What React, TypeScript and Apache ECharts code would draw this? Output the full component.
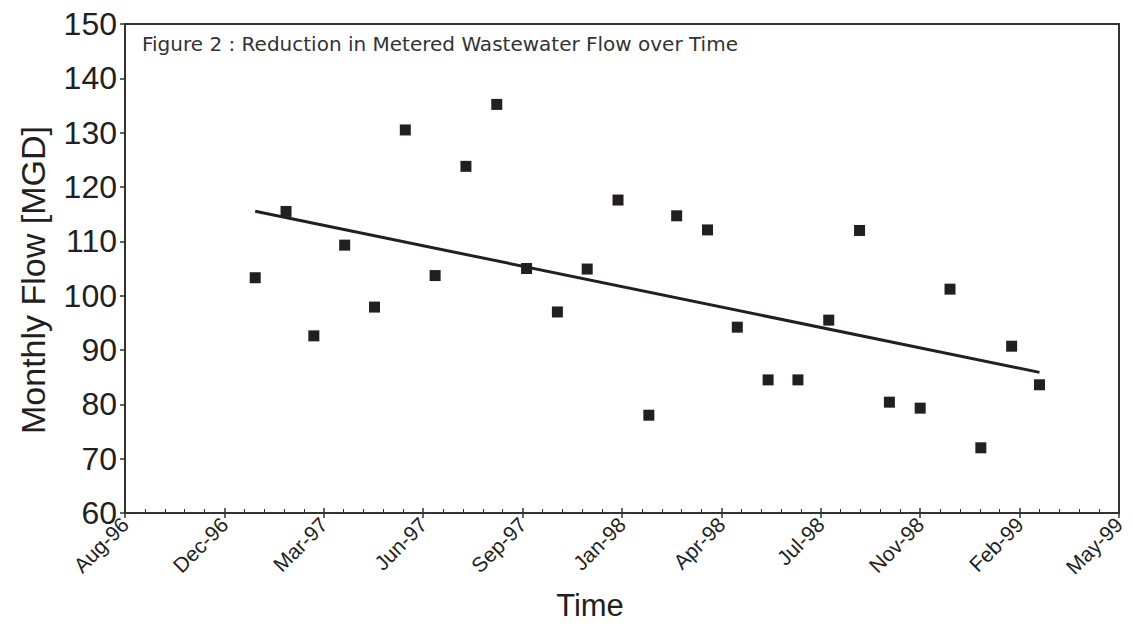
import React, { useEffect, useRef } from "react";
import * as echarts from "echarts";

// Monthly observations (first of each month)
const months = [
  "1997-01", "1997-02", "1997-03", "1997-04", "1997-05", "1997-06", "1997-07",
  "1997-08", "1997-09", "1997-10", "1997-11", "1997-12", "1998-01", "1998-02",
  "1998-03", "1998-04", "1998-05", "1998-06", "1998-07", "1998-08", "1998-09",
  "1998-10", "1998-11", "1998-12", "1999-01", "1999-02", "1999-03",
];
const flows = [
  103.3, 115.5, 92.6, 109.3, 97.9, 130.5, 103.7, 123.8, 135.2, 105.0, 97.0,
  104.9, 117.6, 78.0, 114.7, 112.1, 94.2, 84.5, 84.5, 95.5, 112.0, 80.4, 79.3,
  101.2, 72.0, 90.7, 83.6,
];
const xTickLabels = [
  "Aug-96", "Dec-96", "Mar-97", "Jun-97", "Sep-97", "Jan-98", "Apr-98",
  "Jul-98", "Nov-98", "Feb-99", "May-99",
];
// Excel date serials for the axis range
const X_MIN = 35300;
const X_MAX = 36300;
const X_STEP = 100;

function toSerial(ym: string): number {
  const [y, m] = ym.split("-").map(Number);
  return Date.UTC(y, m - 1, 1) / 86400000 + 25569;
}

export default function App() {
  const ref = useRef<HTMLDivElement>(null);
  useEffect(() => {
    if (!ref.current) return;
    const chart = echarts.init(ref.current, undefined, { renderer: "svg" });
    const xs = months.map(toSerial);
    const pts = xs.map((x, i) => [x, flows[i]]);
    // least-squares trend line
    const n = xs.length;
    const mx = xs.reduce((a, b) => a + b, 0) / n;
    const my = flows.reduce((a, b) => a + b, 0) / n;
    let sxy = 0, sxx = 0;
    xs.forEach((x, i) => {
      sxy += (x - mx) * (flows[i] - my);
      sxx += (x - mx) * (x - mx);
    });
    const slope = sxy / sxx;
    const trend = [xs[0], xs[n - 1]].map((x) => [x, my + slope * (x - mx)]);

    const ink = "#231f20";
    const axisCol = "#333333";
    const font = "Liberation Sans";

    chart.setOption({
      animation: false,
      backgroundColor: "#ffffff",
      grid: {
        left: 125,
        right: 14,
        top: 24,
        bottom: 111,
        show: true,
        borderColor: axisCol,
        borderWidth: 2,
        backgroundColor: "transparent",
      },
      xAxis: [
        {
          type: "value",
          min: X_MIN,
          max: X_MAX,
          interval: X_STEP,
          splitLine: { show: false },
          axisLine: { show: true, lineStyle: { color: axisCol, width: 2 } },
          axisTick: { show: true, length: 5, lineStyle: { color: axisCol, width: 1.5 } },
          axisLabel: {
            rotate: 45,
            margin: 8,
            fontFamily: font,
            fontSize: 21,
            color: ink,
            formatter: (v: number) => xTickLabels[Math.round((v - X_MIN) / X_STEP)] ?? "",
          },
        },
        {
          type: "value",
          min: X_MIN,
          max: X_MAX,
          interval: X_STEP,
          position: "bottom",
          splitLine: { show: false },
          axisLine: { show: false },
          axisLabel: { show: false },
          axisTick: { show: true, inside: true, length: 5, lineStyle: { color: axisCol, width: 1.5 } },
          minorTick: { show: true, splitNumber: 5, length: 4, lineStyle: { color: axisCol, width: 1 } },
        },
      ],
      yAxis: {
        type: "value",
        min: 60,
        max: 150,
        interval: 10,
        splitLine: { show: false },
        axisLine: { show: true, lineStyle: { color: axisCol, width: 2 } },
        axisTick: { show: true, length: 5, lineStyle: { color: axisCol, width: 1.5 } },
        axisLabel: { fontFamily: font, fontSize: 32, color: ink, margin: 8 },
      },
      graphic: [
        {
          type: "text",
          left: 142,
          top: 34,
          style: {
            text: "Figure 2 : Reduction in Metered Wastewater Flow over Time",
            fontFamily: "DejaVu Sans",
            fontSize: 20,
            fill: "#333333",
          },
        },
        {
          type: "text",
          x: 33,
          y: 280,
          rotation: Math.PI / 2,
          style: {
            text: "Monthly Flow [MGD]",
            fontFamily: font,
            fontSize: 34,
            fill: ink,
            align: "center",
            verticalAlign: "middle",
          },
        },
        {
          type: "text",
          x: 590,
          y: 605,
          style: {
            text: "Time",
            fontFamily: font,
            fontSize: 31,
            fill: ink,
            align: "center",
            verticalAlign: "middle",
          },
        },
      ],
      series: [
        {
          type: "scatter",
          data: pts,
          symbol: "rect",
          symbolSize: 11,
          itemStyle: { color: ink, opacity: 1 },
        },
        {
          type: "line",
          data: trend,
          symbol: "none",
          lineStyle: { color: ink, width: 3 },
        },
      ],
    });
    return () => chart.dispose();
  }, []);
  return <div ref={ref} style={{ width: 1133, height: 624, position: "absolute", left: 0, top: 0 }} />;
}
